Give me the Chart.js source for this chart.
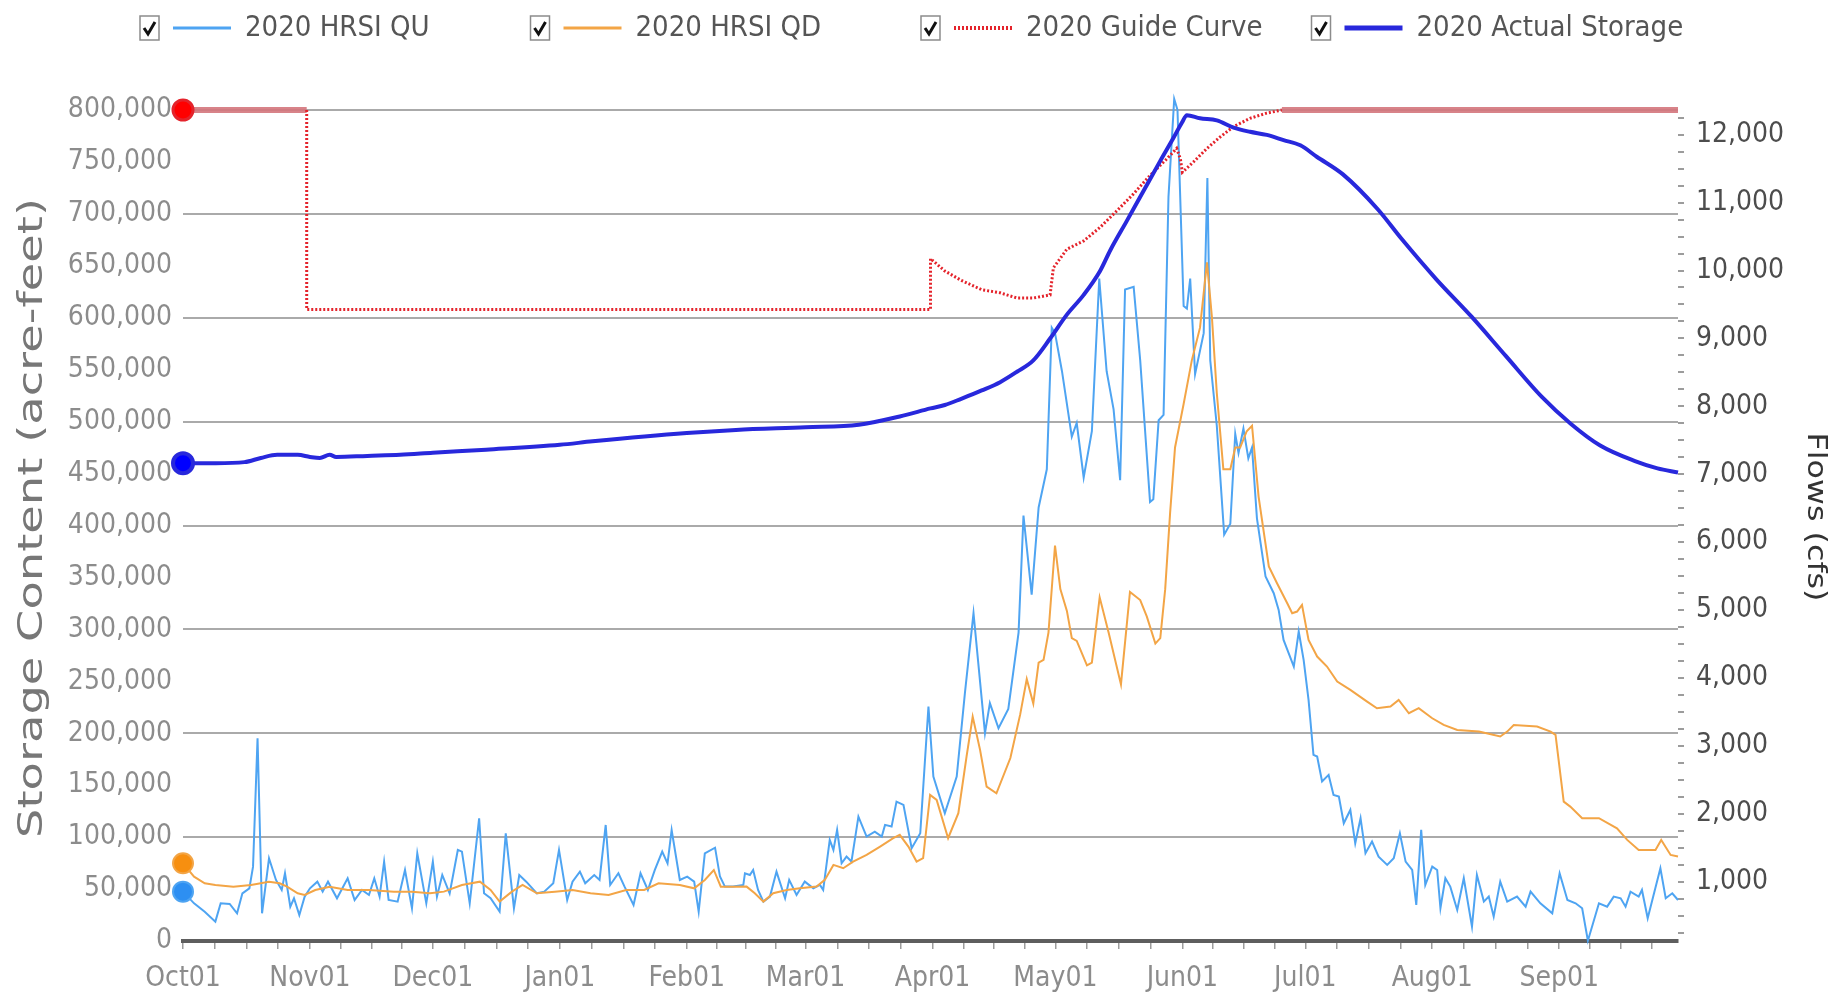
<!DOCTYPE html>
<html>
<head>
<meta charset="utf-8">
<title>2020 HRSI Storage and Flows</title>
<script src="https://cdn.jsdelivr.net/npm/chart.js@4.4.1/dist/chart.umd.min.js"></script>
<style>
  html, body { margin: 0; padding: 0; background: #fff; }
  #wrap { position: relative; width: 1831px; height: 997px; }
</style>
</head>
<body>
<div id="wrap"><canvas id="chart-storage"></canvas></div>
<script>
// water year Oct 1 2019 - Sep 30 2020, x = day of water year
const monthLabels = ["Oct01", "Nov01", "Dec01", "Jan01", "Feb01", "Mar01", "Apr01", "May01", "Jun01", "Jul01", "Aug01", "Sep01"];
const monthStartDays = [0, 31, 61, 92, 123, 152, 183, 213, 244, 274, 305, 336];

const quDays = [0, 2.7, 5.3, 7.9, 9.2, 11.4, 13.2, 14.5, 16.2, 17.1, 18.2, 19.3, 21, 22.7, 24.1, 24.9, 26.2, 27.1, 28.4, 29.7,
  31, 32.8, 34.1, 35.4, 37.6, 40.2, 41.9, 43.7, 45.4, 46.7, 48, 49.1, 50.2, 52.4, 54.2, 55.9, 57.2, 59.4, 61, 62,
  63.3, 65.1, 67.1, 68.1, 70, 72.3, 73.5, 75.1, 77.3, 78.8, 80.8, 82.1, 83.8, 86.4, 88.2, 90.4, 91.8, 93.8, 95.1, 96.9,
  98.2, 100.4, 101.7, 103.2, 104.3, 106.3, 107.8, 110, 111.7, 113.5, 115.2, 117, 118.3, 119.3, 121.3, 123.1, 124.8, 125.9, 127.4, 129.9,
  131.1, 132.3, 134.3, 136.8, 137.2, 138.4, 139.2, 140.4, 141.7, 143.3, 144.9, 147, 148, 149.8, 151.8, 153.9, 155.5, 156.3, 157.9, 158.8,
  159.7, 160.8, 162, 163.2, 164.9, 166.9, 168.9, 170.6, 171.4, 173, 174.2, 175.9, 177.9, 180, 182, 183.2, 186, 188.9, 190.9, 193,
  195.8, 197, 199.1, 201.5, 204, 205.2, 207.2, 208.9, 210.9, 212.1, 212.9, 214.6, 217, 218.2, 219.9, 221.9, 223.7, 225.5, 227.2, 228.8,
  230, 232.1, 233.7, 236.1, 236.9, 238.2, 239.4, 240.6, 242, 242.8, 244.3, 245.1, 245.9, 247.1, 249.2, 250.1, 250.8, 252.4, 254.2, 255.7,
  256.9, 257.7, 258.9, 260.1, 261, 262.2, 264.3, 266.3, 267.5, 268.7, 271.2, 272.4, 273.6, 274.8, 276, 276.9, 278.1, 279.7, 280.9, 282.2,
  283.4, 285, 286.2, 287.5, 288.7, 290.3, 291.9, 294, 295.6, 297.1, 298.5, 300.1, 301.1, 302.3, 303.3, 305, 306.2, 307, 308.2, 309.4,
  311.1, 312.7, 314.7, 315.9, 317.6, 318.8, 320, 321.6, 323.3, 325.7, 327.8, 329, 331.4, 334.3, 336.1, 338, 340, 341.6, 343, 345.7,
  347.7, 349.3, 351, 352.2, 353.4, 355.4, 356.2, 357.6, 360.7, 362, 363.6, 365];
const quFlows = [853, 681, 558, 411, 681, 671, 534, 828, 902, 1221, 3111, 534, 1344, 1025, 877, 1123, 632, 755, 509, 779,
  902, 1000, 853, 1000, 755, 1049, 730, 877, 804, 1049, 779, 1295, 730, 706, 1172, 607, 1417, 681, 1295, 779,
  1098, 828, 1467, 1442, 681, 1933, 828, 755, 558, 1712, 607, 1098, 1000, 828, 853, 976, 1467, 730, 1000, 1148,
  976, 1098, 1025, 1835, 951, 1123, 926, 657, 1123, 877, 1172, 1442, 1270, 1761, 1025, 1074, 1000, 558, 1417, 1500,
  1075, 927, 927, 952, 1124, 1099, 1173, 878, 706, 780, 1148, 755, 1026, 804, 1001, 903, 952, 878, 1615, 1468,
  1762, 1271, 1369, 1296, 1958, 1664, 1737, 1664, 1836, 1811, 2179, 2130, 1492, 1713, 3579, 2548, 2008, 2548, 3775, 4953,
  3186, 3628, 3259, 3543, 4666, 6391, 5227, 6511, 7073, 9158, 9078, 8517, 7554, 7754, 6952, 7634, 9880, 8517, 7955, 6912,
  9720, 9760, 8677, 6591, 6631, 7795, 7875, 11084, 12528, 12367, 9479, 9439, 9880, 8477, 9078, 11364, 8677, 7714, 6110, 6270,
  7594, 7313, 7674, 7233, 7393, 6351, 5493, 5248, 5002, 4560, 4168, 4683, 4266, 3677, 2866, 2842, 2474, 2572, 2277, 2253,
  1860, 2056, 1565, 1934, 1418, 1590, 1369, 1246, 1344, 1713, 1295, 1172, 657, 1762, 951, 1222, 1172, 608, 1050, 927,
  583, 1050, 338, 1099, 706, 780, 485, 1001, 706, 780, 632, 853, 681, 534, 1123, 730, 681, 608, 130, 681,
  632, 780, 755, 632, 853, 780, 878, 460, 1197, 755, 829, 730];

const qdDays = [0, 2.7, 5.3, 7.9, 12.3, 16.6, 21, 23.6, 25.4, 28, 29.7, 32.3, 35.8, 40.2, 45.4, 51.5, 55.9, 60.3, 63.7, 68.1,
  72.5, 75.1, 77.3, 80.3, 82.9, 86.4, 90.8, 95.1, 99.5, 103.9, 108.2, 112.6, 116.1, 121.3, 124.8, 127.4, 129.6, 131.3, 134, 137.6,
  139.6, 141.7, 144.1, 147.4, 150.6, 154.7, 156.7, 158.8, 161.2, 163.6, 166.9, 170.2, 173.4, 175, 177.1, 179.1, 180.7, 182.4, 184, 186.8,
  189.3, 191.3, 192.8, 194.6, 196.2, 198.6, 202, 204.4, 206, 207.6, 208.9, 210.1, 211.3, 212.9, 214.2, 215.8, 217, 218.2, 220.7, 221.9,
  223.8, 226, 229, 231.2, 233.7, 235.3, 237.4, 238.6, 239.8, 241, 242.2, 244.3, 246.3, 248.3, 250, 251.2, 252.4, 254, 255.7, 256.9,
  258.1, 259.7, 261, 262.6, 265.1, 267.1, 269.6, 270.8, 272, 273.2, 274.8, 276.9, 279.3, 281.8, 285, 289.1, 291.5, 294.8, 296.8, 299.3,
  301.7, 305, 307.8, 311.1, 316.4, 321.6, 323.3, 324.9, 330.6, 333.9, 335.1, 337.1, 338.7, 341.6, 345.7, 350.1, 352.6, 355.4, 359.5, 360.9,
  363.2, 365];
const qdFlows = [1270, 1074, 976, 951, 926, 951, 1000, 976, 926, 828, 804, 877, 926, 877, 877, 853, 853, 828, 853, 951,
  1000, 877, 706, 853, 951, 828, 853, 877, 828, 804, 877, 877, 976, 951, 902, 1025, 1172, 926, 926, 927,
  829, 706, 829, 878, 903, 927, 1026, 1247, 1198, 1296, 1394, 1517, 1640, 1689, 1517, 1296, 1345, 2278, 2204, 1640,
  2008, 2842, 3431, 2941, 2400, 2302, 2821, 3463, 3984, 3623, 4225, 4265, 4666, 5950, 5308, 4987, 4586, 4546, 4185, 4225,
  5187, 4666, 3904, 5267, 5147, 4907, 4506, 4586, 5308, 6431, 7394, 8035, 8677, 9158, 10121, 9319, 8196, 7073, 7073, 7393,
  7393, 7634, 7714, 6671, 5641, 5395, 5100, 4953, 4978, 5076, 4560, 4315, 4168, 3947, 3824, 3652, 3554, 3578, 3677, 3480,
  3554, 3406, 3308, 3235, 3210, 3137, 3210, 3308, 3284, 3210, 3161, 2179, 2105, 1934, 1934, 1786, 1615, 1467, 1467, 1615,
  1393, 1369];

const guideDays = [0, 30.2, 30.2, 182.5, 182.5, 186, 190, 195, 199.5, 203.6, 207.6, 211.7, 212.5, 215.8, 219.9, 223.9, 228, 232, 236.1, 240.2,
  242.6, 243.5, 244, 246.7, 250, 253.2, 256.5, 260.5, 264.6, 268.3, 365];
const guideStorage = [800000, 800000, 608000, 608000, 657000, 645000, 636000, 627000, 624000, 619000, 619000, 622000, 648000, 666000, 674000, 687000, 703000, 719000, 737000, 753000,
  763000, 753000, 740000, 750000, 763000, 774000, 784000, 792000, 797000, 800000, 800000];

const storageDays = [0, 8, 15, 19, 23, 28, 31, 33.4, 35.8, 37.4, 45, 53, 61, 74, 92, 100, 123, 135, 152, 165,
  175, 182.5, 186, 190, 195, 199.5, 203.6, 207.6, 211.7, 215.8, 219.9, 223.9, 226.4, 230.4, 234.5, 238.6, 241.8, 243.9, 245.1, 248.3,
  252.4, 256.5, 260.5, 264.6, 268.7, 272.8, 276.8, 283.2, 291.8, 297.5, 306, 314.6, 323, 331.7, 338.8, 346, 354.5, 360, 365];
const storageValues = [460000, 460000, 461000, 465000, 468000, 468000, 466000, 465000, 468000, 466000, 467000, 468000, 470000, 473000, 477700, 481000, 489000, 492000, 494600, 497000,
  505000, 512700, 516000, 522000, 530000, 538000, 548000, 559000, 580000, 603000, 622000, 645000, 665000, 693000, 722000, 751000, 773000, 788000, 795000, 792000,
  790000, 783000, 779000, 776000, 771000, 766000, 755000, 738000, 704000, 676000, 637000, 601000, 563000, 524000, 498000, 477000, 462000, 455000, 451000];

const FONT = "'DejaVu Sans Condensed', 'DejaVu Sans', sans-serif";
const GUIDE_TOP = 800000;

// minor ticks every quarter month, labels only at month starts
const xTickDays = monthStartDays.flatMap((s, i) => {
  const e = monthStartDays[i + 1] ?? 366;
  return [0, 1, 2, 3].map(k => s + k * (e - s) / 4);
});
const flowTickValues = Array.from({ length: 49 }, (_, i) => 250 + i * 250);

const toPoints = (days, vals) => days.map((d, i) => ({ x: d, y: vals[i] }));
const firstDot = (r) => (c) => (c.dataIndex === 0 ? r : 0);
const atTop = (s) => s.p0.parsed.y >= GUIDE_TOP && s.p1.parsed.y >= GUIDE_TOP;

function drawStretchedTitle(ctx, text, x, y, angle, font, color, length) {
  ctx.save();
  ctx.font = font;
  ctx.fillStyle = color;
  ctx.textAlign = "center";
  ctx.textBaseline = "alphabetic";
  const w = ctx.measureText(text).width;
  ctx.translate(x, y);
  ctx.rotate(angle);
  ctx.scale(length / w, 1);
  ctx.fillText(text, 0, 0);
  ctx.restore();
}

const decorPlugin = {
  id: "decor",
  afterDraw(chart) {
    const ctx = chart.ctx;
    chart.data.datasets.forEach((ds, i) => {
      const x0 = 140 + i * 390.5, y = 28;
      ctx.save();
      // checkbox
      ctx.fillStyle = "#fff";
      ctx.strokeStyle = "#8c8c8c";
      ctx.lineWidth = 1.5;
      ctx.fillRect(x0, y - 12, 19, 24);
      ctx.strokeRect(x0, y - 12, 19, 24);
      ctx.strokeStyle = "#111";
      ctx.lineWidth = 3;
      ctx.beginPath();
      ctx.moveTo(x0 + 4, y);
      ctx.lineTo(x0 + 8, y + 6);
      ctx.lineTo(x0 + 15, y - 6);
      ctx.stroke();
      // line sample
      ctx.strokeStyle = ds.borderColor;
      ctx.lineWidth = ds.borderWidth + 1;
      ctx.setLineDash(ds.borderDash || []);
      ctx.beginPath();
      ctx.moveTo(x0 + 33, y);
      ctx.lineTo(x0 + 91, y);
      ctx.stroke();
      ctx.setLineDash([]);
      ctx.fillStyle = "#555";
      ctx.font = `29px ${FONT}`;
      ctx.textAlign = "left";
      ctx.textBaseline = "middle";
      ctx.fillText(ds.label, x0 + 105, y);
      ctx.restore();
    });
    drawStretchedTitle(ctx, "Storage Content (acre-feet)", 42, 518, -Math.PI / 2, "34px 'DejaVu Sans'", "#777", 640);
    drawStretchedTitle(ctx, "Flows (cfs)", 1808, 517, Math.PI / 2, "26px 'DejaVu Sans'", "#333", 169);
  },
};

Chart.defaults.font.family = FONT;

new Chart(document.getElementById("chart-storage"), {
  type: "line",
  data: {
    datasets: [
      { label: "2020 HRSI QU", data: toPoints(quDays, quFlows), yAxisID: "yFlow", order: 4,
        borderColor: "#4ea4f2", borderWidth: 2, pointRadius: firstDot(10), pointBackgroundColor: "#2d8ff2" },
      { label: "2020 HRSI QD", data: toPoints(qdDays, qdFlows), yAxisID: "yFlow", order: 3,
        borderColor: "#f3a546", borderWidth: 2, pointRadius: firstDot(10), pointBackgroundColor: "#f78f10" },
      { label: "2020 Guide Curve", data: toPoints(guideDays, guideStorage), yAxisID: "yStorage", order: 2,
        borderColor: "#e4232b", borderWidth: 3, borderDash: [2, 2], pointRadius: firstDot(10), pointBackgroundColor: "#ff0000",
        segment: {
          borderColor: s => atTop(s) ? "rgba(212,118,124,0.9)" : undefined,
          borderDash: s => atTop(s) ? [] : undefined,
          borderWidth: s => atTop(s) ? 6 : undefined,
        } },
      { label: "2020 Actual Storage", data: toPoints(storageDays, storageValues), yAxisID: "yStorage", order: 1,
        borderColor: "#2828dc", borderWidth: 4, cubicInterpolationMode: "monotone",
        pointRadius: firstDot(10), pointBackgroundColor: "#0000ff" },
    ],
  },
  options: {
    responsive: true,
    maintainAspectRatio: false,
    animation: false,
    clip: false,
    elements: { line: { tension: 0 }, point: { borderWidth: 0, hoverRadius: 0 } },
    layout: { padding: { top: 110, left: 0, right: 0, bottom: 0 } },
    plugins: { legend: { display: false }, tooltip: { enabled: false } },
    scales: {
      x: {
        type: "linear", min: 0, max: 365,
        afterBuildTicks: s => { s.ticks = xTickDays.map(v => ({ value: v })); },
        afterFit: s => { s.height = 56; },
        ticks: {
          autoSkip: false, maxRotation: 0, padding: 13, color: "#8c8c8c", font: { size: 28 },
          callback: v => { const i = monthStartDays.indexOf(v); return i >= 0 ? monthLabels[i] : ""; },
        },
        grid: { drawOnChartArea: false, tickLength: 8, color: "#9c9c9c", lineWidth: 1.5 },
        border: { display: true, color: "#5e5e5e", width: 4 },
      },
      yStorage: {
        position: "left", min: 0, max: 800000,
        afterFit: s => { s.width = 183; },
        ticks: { stepSize: 50000, padding: 11, color: "#8c8c8c", font: { size: 28 }, callback: v => v.toLocaleString("en-US") },
        grid: {
          drawTicks: false, lineWidth: 2,
          color: c => (c.tick && c.tick.value > 0 && c.tick.value % 100000 === 0) ? "#aaaaaa" : "rgba(0,0,0,0)",
        },
        border: { display: false },
      },
      yFlow: {
        position: "right", min: 126, max: 12364,
        afterBuildTicks: s => { s.ticks = flowTickValues.map(v => ({ value: v })); },
        afterFit: s => { s.width = 153; },
        ticks: {
          autoSkip: false, padding: 12, color: "#4d4d4d", font: { size: 28 },
          callback: v => (v % 1000 === 0 ? v.toLocaleString("en-US") : ""),
        },
        grid: { drawOnChartArea: false, tickLength: 6, color: "#9c9c9c", lineWidth: 2 },
        border: { display: false },
      },
    },
  },
  plugins: [decorPlugin],
});
</script>
</body>
</html>
